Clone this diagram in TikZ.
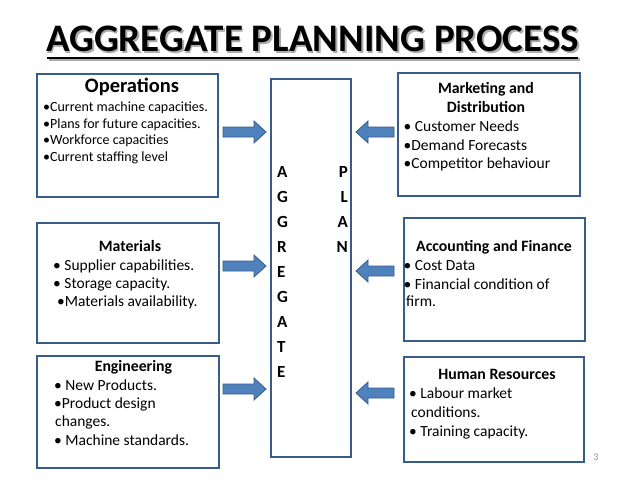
\documentclass[tikz,border=0pt]{standalone}
\usepackage{fontspec}
\setmainfont{Carlito}
\definecolor{boxblue}{HTML}{385D8A}
\definecolor{arrowblue}{HTML}{4F81BD}
\definecolor{pagegrey}{HTML}{8C8C8C}
\newcommand\blockR[3]{\draw[blockarrow] (#1,#3-5) -- (#2-12,#3-5) -- (#2-12,#3-11) -- (#2,#3) -- (#2-12,#3+11) -- (#2-12,#3+5) -- (#1,#3+5) -- cycle;}
\newcommand\blockL[3]{\draw[blockarrow] (#2,#3-5) -- (#1+12,#3-5) -- (#1+12,#3-11) -- (#1,#3) -- (#1+12,#3+11) -- (#1+12,#3+5) -- (#2,#3+5) -- cycle;}
\begin{document}
\begin{tikzpicture}[x=1pt,y=-1pt,
  box/.style={draw=boxblue, line width=1.2pt, fill=white, inner sep=0pt},
  blockarrow/.style={fill=arrowblue, draw=boxblue, line width=0.8pt, line join=miter},
  hd/.style={font=\bfseries\fontsize{15.8}{18}\selectfont, inner sep=0pt, anchor=base},
  hdbig/.style={font=\bfseries\fontsize{20.5}{24}\selectfont, inner sep=0pt, anchor=base},
  item/.style={font=\fontsize{15.5}{18}\selectfont, inner sep=0pt, anchor=base west},
  itemsmall/.style={font=\fontsize{14}{16}\selectfont, inner sep=0pt, anchor=base west},
  letter/.style={font=\bfseries\fontsize{17}{20}\selectfont, inner sep=0pt},
  titletext/.style={font=\bfseries\fontsize{39}{46}\selectfont, inner sep=0pt, anchor=base}]
\useasboundingbox[fill=white] (0,0) rectangle (638,479);

% title
\node[titletext, text=black!40, opacity=0.8] (titleshadow) at (314.2,53.8) {AGGREGATE PLANNING PROCESS};
\fill[black!40, opacity=0.8] (48.5,58) rectangle (579.5,61);
\node[titletext] (title) at (312.5,52) {AGGREGATE PLANNING PROCESS};
\fill[black] (47,56.5) rectangle (578,59.3);

% boxes
\node[box, minimum width=181pt, minimum height=123pt] (ops) at (127.5,135.5) {};
\node[box, minimum width=182pt, minimum height=123pt] (mkt) at (489,134.5) {};
\node[box, minimum width=182pt, minimum height=120pt] (mat) at (128,283) {};
\node[box, minimum width=181pt, minimum height=123pt] (acc) at (494.5,279.5) {};
\node[box, minimum width=182pt, minimum height=112pt] (eng) at (128,412) {};
\node[box, minimum width=180pt, minimum height=105pt] (hr) at (494,409.5) {};
\node[box, minimum width=80pt, minimum height=378pt] (agg) at (311,268) {};

% arrows
\blockR{223}{266}{132}
\blockR{223}{266}{266}
\blockR{223}{266}{389}
\blockL{356}{394}{132}
\blockL{356}{394}{271}
\blockL{356}{394}{393}

% Operations
\node[hdbig] (opsh) at (132,92) {Operations};
\node[itemsmall] (ops1) at (43,111.7) {•Current machine capacities.};
\node[itemsmall] (ops2) at (43,128.2) {•Plans for future capacities.};
\node[itemsmall] (ops3) at (43,144.7) {•Workforce capacities};
\node[itemsmall] (ops4) at (43,161.2) {•Current staffing level};

% Marketing
\node[hd] (mkth1) at (486,93.3) {Marketing and};
\node[hd] (mkth2) at (486,112.7) {Distribution};
\node[item] (mkt1) at (403.5,131.7) {• Customer Needs};
\node[item] (mkt2) at (403.5,150) {•Demand Forecasts};
\node[item] (mkt3) at (403.5,168.3) {•Competitor behaviour};

% Materials
\node[hd] (math) at (130,251.7) {Materials};
\node[item] (mat1) at (53,270) {• Supplier capabilities.};
\node[item] (mat2) at (53,288.3) {• Storage capacity.};
\node[item] (mat3) at (57,306.7) {•Materials availability.};

% Accounting
\node[hd] (acch) at (494,251) {Accounting and Finance};
\node[item] (acc1) at (403.5,270) {• Cost Data};
\node[item] (acc2) at (403.5,289) {• Financial condition of};
\node[item] (acc3) at (406,306.7) {firm.};

% Engineering
\node[hd] (engh) at (133.5,371) {Engineering};
\node[item] (eng1) at (54,390) {• New Products.};
\node[item] (eng2) at (54,408.3) {•Product design};
\node[item] (eng3) at (55,426.7) {changes.};
\node[item] (eng4) at (54,445) {• Machine standards.};

% Human Resources
\node[hd] (hrh) at (497,379.3) {Human Resources};
\node[item] (hr1) at (409,398.3) {• Labour market};
\node[item] (hr2) at (411,417.7) {conditions.};
\node[item] (hr3) at (409,436) {• Training capacity.};

% AGGREGATE / PLAN letters
\foreach \ch [count=\i from 0] in {A,G,G,R,E,G,A,T,E}
  \node[letter, anchor=base west] (agg\i) at (277,177.5+25*\i) {\ch};
\foreach \ch [count=\i from 0] in {P,L,A,N}
  \node[letter, anchor=base east] (plan\i) at (348,177.5+25*\i) {\ch};

% page number
\node[font=\fontsize{10}{12}\selectfont, text=pagegrey, inner sep=0pt, anchor=base] (pagenum) at (596,460) {3};
\end{tikzpicture}
\end{document}
